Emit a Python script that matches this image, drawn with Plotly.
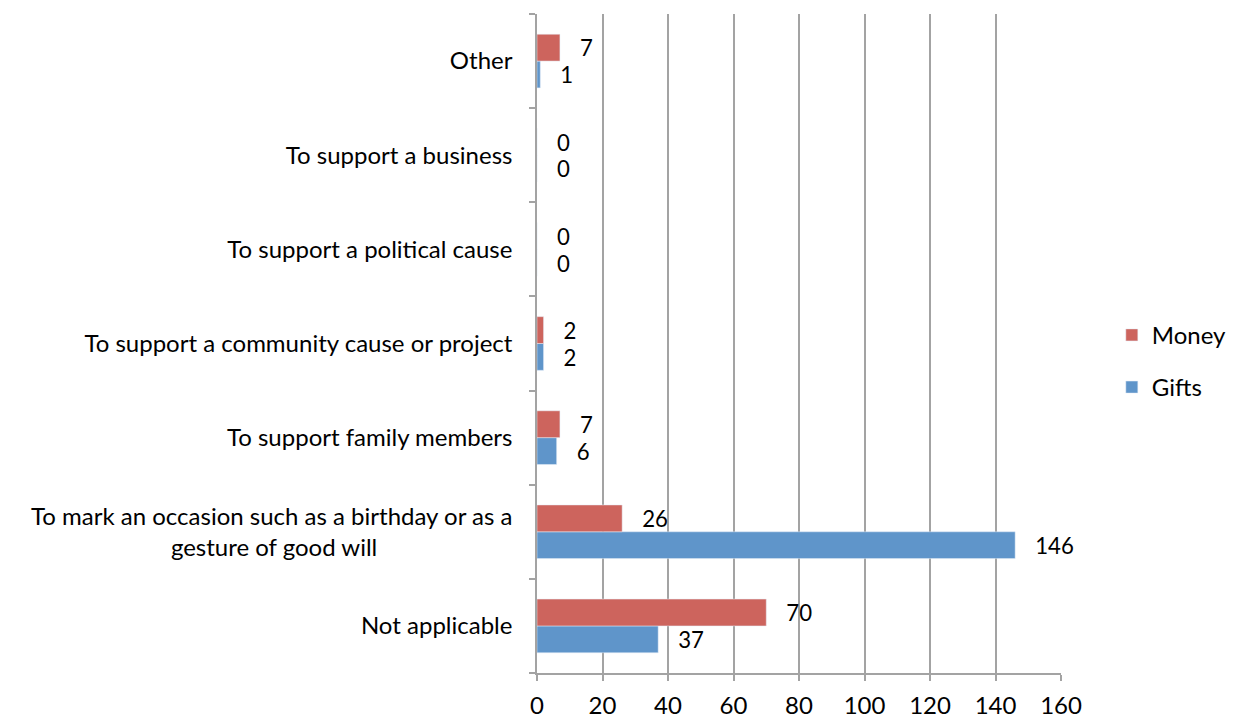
import plotly.graph_objects as go

categories = [
    "Not applicable",
    "To mark an occasion such as a birthday or as a<br>gesture of good will" + "&nbsp;" * 22,
    "To support family members",
    "To support a community cause or project",
    "To support a political cause",
    "To support a business",
    "Other",
]
gifts = [37, 146, 6, 2, 0, 0, 1]
money = [70, 26, 7, 2, 0, 0, 7]
x_ticks = [0, 20, 40, 60, 80, 100, 120, 140, 160]

FONT = "Lato, Open Sans, sans-serif"
FS = 24
GRID = "#A3A3A3"

fig = go.Figure()
fig.add_trace(go.Bar(
    y=categories, x=gifts, orientation="h", name="Gifts",
    marker=dict(color="#5F95CA"), legendgroup="g", legendrank=2,
    text=gifts, texttemplate="   %{x}", textposition="outside",
    textfont=dict(size=FS, color="black", family=FONT), cliponaxis=False,
))
fig.add_trace(go.Bar(
    y=categories, x=money, orientation="h", name="Money",
    marker=dict(color="#CD645D"), legendgroup="m", legendrank=1,
    text=money, texttemplate="   %{x}", textposition="outside",
    textfont=dict(size=FS, color="black", family=FONT), cliponaxis=False,
))

fig.update_layout(
    width=1239, height=718,
    margin=dict(l=537, r=178, t=14, b=45, autoexpand=False),
    paper_bgcolor="white", plot_bgcolor="white",
    barmode="group", bargap=0.43, bargroupgap=0,
    font=dict(family=FONT, size=FS, color="black"),
    legend=dict(
        x=1.097, y=0.473, xanchor="left", yanchor="middle",
        traceorder="grouped", tracegroupgap=18,
        font=dict(size=FS, family=FONT), itemwidth=30,
    ),
    xaxis=dict(
        range=[0, 160], tickvals=x_ticks, showgrid=True,
        gridcolor=GRID, gridwidth=1.5, zeroline=False,
        showline=True, linecolor=GRID, linewidth=1.5,
        ticks="outside", ticklen=6, tickcolor=GRID, tickwidth=1.5,
        ticklabelstandoff=4, automargin=False,
        tickfont=dict(size=FS, family=FONT),
    ),
    yaxis=dict(
        categoryorder="array", categoryarray=categories,
        showline=True, linecolor=GRID, linewidth=1.5,
        ticks="outside", ticklen=6, tickcolor=GRID, tickwidth=1.5,
        tickson="boundaries", showgrid=False,
        ticklabelstandoff=18, automargin=False,
        tickfont=dict(size=FS, family=FONT),
    ),
)

fig.write_html("out.html")
